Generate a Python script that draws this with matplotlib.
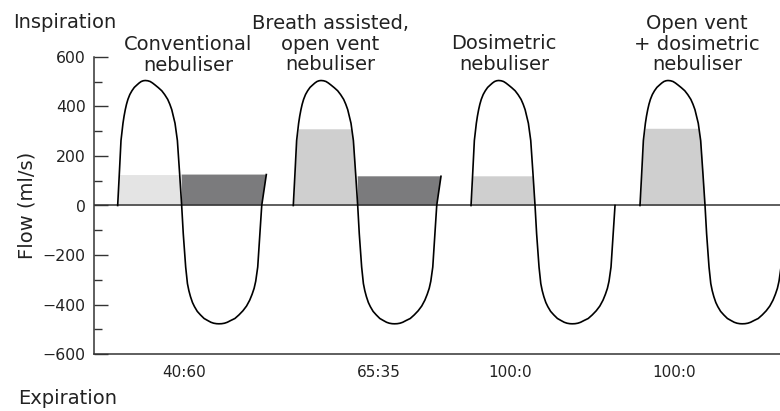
import numpy as np
import matplotlib
matplotlib.use('Agg')
import matplotlib.pyplot as plt

# Shape of one inspiration lobe:
# position across the lobe (0-1) and height as a fraction of the peak
insp_u = [0, 0.026, 0.052, 0.083, 0.10, 0.119, 0.138, 0.16, 0.19, 0.223,
          0.26, 0.30, 0.335, 0.368, 0.40, 0.43, 0.47, 0.508, 0.545, 0.585,
          0.635, 0.689, 0.735, 0.782, 0.815, 0.845, 0.896, 0.933, 0.969, 1.0]
insp_h = [0, 0.255, 0.52, 0.658, 0.715, 0.767, 0.81, 0.849, 0.888, 0.918,
          0.945, 0.964, 0.98, 0.992, 0.998, 1.0, 0.998, 0.992, 0.98, 0.964,
          0.943, 0.918, 0.887, 0.849, 0.81, 0.767, 0.658, 0.52, 0.247, 0]

# Shape of one expiration lobe, same idea
exp_u = [0, 0.02, 0.05, 0.072, 0.09, 0.11, 0.135, 0.16, 0.195, 0.235,
         0.28, 0.327, 0.365, 0.40, 0.435, 0.465, 0.50, 0.535, 0.57, 0.61,
         0.665, 0.715, 0.765, 0.81, 0.85, 0.88, 0.905, 0.925, 0.95, 0.975, 1.0]
exp_h = [0, 0.24, 0.52, 0.66, 0.72, 0.77, 0.82, 0.855, 0.895, 0.925,
         0.955, 0.973, 0.987, 0.995, 0.999, 1.0, 0.999, 0.995, 0.987, 0.973,
         0.955, 0.925, 0.89, 0.85, 0.80, 0.75, 0.70, 0.64, 0.52, 0.26, 0]

# One entry per breath (time in arbitrary units, 0-100 across the axis)
insp_start = [3.45, 29.05, 54.96, 79.59]
insp_end = [12.78, 38.44, 64.29, 89.07]
exp_end = [24.45, 49.96, 75.95, 100.73]
tail_end = [25.12, 50.58, None, None]
peak_flow = [505, 505, 505, 505]
trough_flow = [-478, -478, -478, -478]

# Nebuliser output during inspiration / expiration (ml/s)
insp_level = [125, 310, 120, 312]
exp_level = [125, 118, 0, 0]

titles = ['Conventional\nnebuliser',
          'Breath assisted,\nopen vent\nnebuliser',
          'Dosimetric\nnebuliser',
          'Open vent\n+ dosimetric\nnebuliser']
ratio_labels = ['40:60', '65:35', '100:0', '100:0']
ratio_pos = [13.11, 41.55, 60.64, 84.55]

# Colours
insp_colors = ['#e4e4e4', '#cfcfcf', '#cfcfcf', '#cfcfcf']
dark_color = '#7b7b7d'
axis_color = '#333333'

W, H = 780, 411
fig = plt.figure(figsize=(W / 100, H / 100), dpi=100)

# Axes placed in pixels
ax = fig.add_axes([94 / W, (H - 354) / H, 686 / W, 297 / H])
ax.set_xlim(0, 100)
ax.set_ylim(-600, 600)

for i in range(4):
    # Inspiration lobe
    xi = insp_start[i] + np.array(insp_u) * (insp_end[i] - insp_start[i])
    yi = peak_flow[i] * np.array(insp_h)

    # Expiration lobe
    xe = insp_end[i] + np.array(exp_u) * (exp_end[i] - insp_end[i])
    ye = trough_flow[i] * np.array(exp_h)

    # Shaded nebuliser output
    if exp_level[i] > 0:
        ax.fill([insp_end[i], insp_end[i], tail_end[i], exp_end[i]],
                [0, exp_level[i], exp_level[i], 0],
                color=dark_color, lw=0, zorder=1)
    ax.fill_between(xi, 0, np.minimum(yi, insp_level[i]),
                    color=insp_colors[i], lw=0, zorder=1)

    x = list(xi) + list(xe[1:])
    y = list(yi) + list(ye[1:])
    if tail_end[i] is not None:
        x.append(tail_end[i])
        y.append(exp_level[i])
    ax.plot(x, y, color='black', lw=1.2, zorder=3, solid_joinstyle='round')

# Zero line
ax.axhline(0, color=axis_color, lw=1.1, zorder=2)

# Spines
ax.spines['top'].set_visible(False)
ax.spines['right'].set_visible(False)
for s in ['left', 'bottom']:
    ax.spines[s].set_color(axis_color)
    ax.spines[s].set_linewidth(1.1)

# Ticks
ax.set_yticks(range(-600, 601, 200))
ax.set_yticklabels([str(v).replace('-', '\u2212') for v in range(-600, 601, 200)])
ax.set_yticks(range(-500, 501, 200), minor=True)
ax.tick_params(axis='y', which='major', direction='in', length=10, width=1.0,
               color=axis_color, labelsize=11.3, labelcolor='#222222', pad=6)
ax.tick_params(axis='y', which='minor', direction='in', length=5.5, width=1.0,
               color=axis_color)
ax.set_xticks(ratio_pos)
ax.set_xticklabels(ratio_labels)
ax.tick_params(axis='x', length=0, labelsize=11, labelcolor='#222222', pad=8)

# Labels outside the axes
fig.text(27 / W, 1 - 205 / H, 'Flow (ml/s)', rotation=90, ha='center',
         va='center', fontsize=14, color='#222222')
fig.text(13 / W, 1 - 23 / H, 'Inspiration', ha='left', va='center',
         fontsize=14, color='#222222')
fig.text(18 / W, 1 - 398 / H, 'Expiration', ha='left', va='center',
         fontsize=14, color='#222222')

# Nebuliser titles
title_x = [188, 330, 504, 697]
title_y = [55, 44, 54, 44]
for t, tx, ty in zip(titles, title_x, title_y):
    fig.text(tx / W, 1 - ty / H, t, ha='center', va='center', fontsize=14,
             linespacing=1.08, color='#222222')

fig.savefig('out.png', dpi=100)
